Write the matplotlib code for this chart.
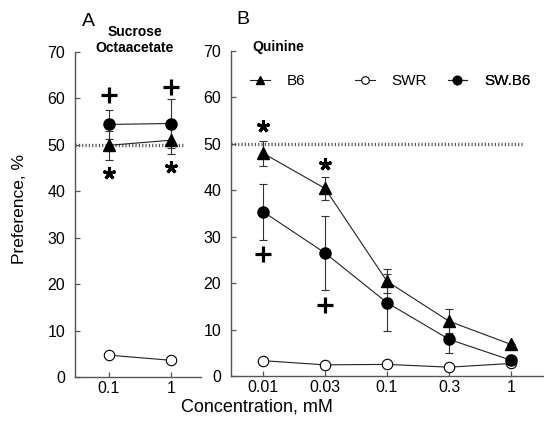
import matplotlib
matplotlib.use('Agg')
import matplotlib.pyplot as plt
from matplotlib.lines import Line2D
import numpy as np

plt.rcParams['font.family'] = ['Liberation Sans', 'DejaVu Sans']

# ---------------- data ----------------
# Panel A: sucrose octaacetate
conc_a = ['0.1', '1']
b6_a = [49.9, 51.0]
b6_a_err = [3.1, 3.0]
swr_a = [4.7, 3.6]
swr_a_err = [0.0, 0.0]
swb6_a = [54.4, 54.6]
swb6_a_err = [3.1, 5.2]
plus_a = [60.7, 62.4]
star_a = [44.0, 45.3]

# Panel B: quinine
conc_b = ['0.01', '0.03', '0.1', '0.3', '1']
b6_b = [48.0, 40.4, 20.4, 11.8, 6.8]
b6_b_err = [2.7, 2.5, 2.6, 2.6, 0.0]
swr_b = [3.3, 2.4, 2.5, 1.9, 2.7]
swr_b_err = [0.0, 0.0, 0.0, 0.0, 0.0]
swb6_b = [35.4, 26.5, 15.8, 7.9, 3.4]
swb6_b_err = [6.0, 8.0, 6.1, 2.9, 0.0]
plus_b = [26.2, 15.3]   # at 0.01 and 0.03
star_b = [53.8, 45.6]   # at 0.01 and 0.03

yticks = [0, 10, 20, 30, 40, 50, 60, 70]
indifference = 50

# ---------------- figure ----------------
fig = plt.figure(figsize=(5.44, 4.25), dpi=100)
axA = fig.add_axes([75 / 544, 1 - 377 / 425, 126 / 544, 325 / 425])
axB = fig.add_axes([231 / 544, 1 - 376 / 425, 312 / 544, 325 / 425])

line_kw = dict(color='#222222', lw=0.8)
err_kw = dict(fmt='none', ecolor='#333333', elinewidth=0.8, capsize=3, capthick=0.8, zorder=2)


def draw_panel(ax, labels, b6, b6e, swr, swre, swb6, swb6e, plus, star, xlim):
    x = np.arange(len(labels))
    ax.set_xlim(*xlim)
    ax.set_ylim(0, 70)
    # indifference reference line
    ax.plot([xlim[0], x[-1] + 0.19], [indifference, indifference],
            ls=(0, (0.35, 0.65)), lw=2.4, color='#555555',
            dash_capstyle='butt', zorder=1, clip_on=False)
    # error bars
    ax.errorbar(x, swr, yerr=swre, **err_kw)
    ax.errorbar(x, b6, yerr=b6e, **err_kw)
    ax.errorbar(x, swb6, yerr=swb6e, **err_kw)
    # series
    ax.plot(x, swr, marker='o', ms=7.5, mfc='white', mec='black', mew=0.8, zorder=3, **line_kw)
    ax.plot(x, b6, marker='^', ms=8.5, mfc='black', mec='black', zorder=4, **line_kw)
    ax.plot(x, swb6, marker='o', ms=8, mfc='black', mec='black', zorder=5, **line_kw)
    # significance marks
    ax.plot(x[:len(plus)], plus, ls='none', marker='+', ms=11, mew=2.3, color='black', zorder=6)
    ax.plot(x[:len(star)], star, ls='none', marker=(5, 2, 0), ms=9, mew=2.2, color='black', zorder=6)
    # axes styling
    ax.set_xticks(x)
    ax.set_xticklabels(labels)
    ax.set_yticks(yticks)
    for s in ['top', 'right']:
        ax.spines[s].set_visible(False)
    for s in ['left', 'bottom']:
        ax.spines[s].set_color('#555555')
        ax.spines[s].set_linewidth(1.0)
    ax.tick_params(axis='y', direction='in', length=3.6, width=0.9, color='#555555',
                   pad=7, labelsize=11.5)
    ax.tick_params(axis='x', direction='in', length=3.6, width=0.9, color='#555555',
                   pad=3, labelsize=11.5)
    ax.set_facecolor('none')


draw_panel(axA, conc_a, b6_a, b6_a_err, swr_a, swr_a_err, swb6_a, swb6_a_err,
           plus_a, star_a, (-0.548, 1.484))
draw_panel(axB, conc_b, b6_b, b6_b_err, swr_b, swr_b_err, swb6_b, swb6_b_err,
           plus_b, star_b, (-0.516, 4.516))

# legend (panel B)
series_names = ['B6', 'SWR', 'SW.B6']
handles = [
    Line2D([], [], color='#222222', lw=0.8, marker='^', ms=6, mfc='black', mec='black'),
    Line2D([], [], color='#222222', lw=0.8, marker='o', ms=5.5, mfc='white', mec='black', mew=0.8),
    Line2D([], [], color='#222222', lw=0.8, marker='o', ms=6, mfc='black', mec='black'),
]
leg_x = [0.061, 0.397, 0.694]
for h, name, lx in zip(handles, series_names, leg_x):
    lg = axB.legend([h], [name], loc='center left', bbox_to_anchor=(lx, 0.908),
                    frameon=False, borderpad=0, borderaxespad=0, handlelength=1.3,
                    handletextpad=1.1, fontsize=11)
    axB.add_artist(lg)

# texts
fig.text(88 / 544, 1 - 22 / 425, 'A', ha='center', va='center', fontsize=14)
fig.text(243 / 544, 1 - 20 / 425, 'B', ha='center', va='center', fontsize=14)
fig.text(135 / 544, 1 - 40 / 425, 'Sucrose\nOctaacetate', ha='center', va='center',
         fontsize=10, fontweight='bold', linespacing=1.15)
fig.text(278 / 544, 1 - 47 / 425, 'Quinine', ha='center', va='center',
         fontsize=10, fontweight='bold')
fig.text(20 / 544, 1 - 209 / 425, 'Preference, %', rotation=90, ha='center', va='center',
         fontsize=12.5)
fig.text(257 / 544, 1 - 407 / 425, 'Concentration, mM', ha='center', va='center',
         fontsize=13)

fig.savefig('out.png', dpi=100)
